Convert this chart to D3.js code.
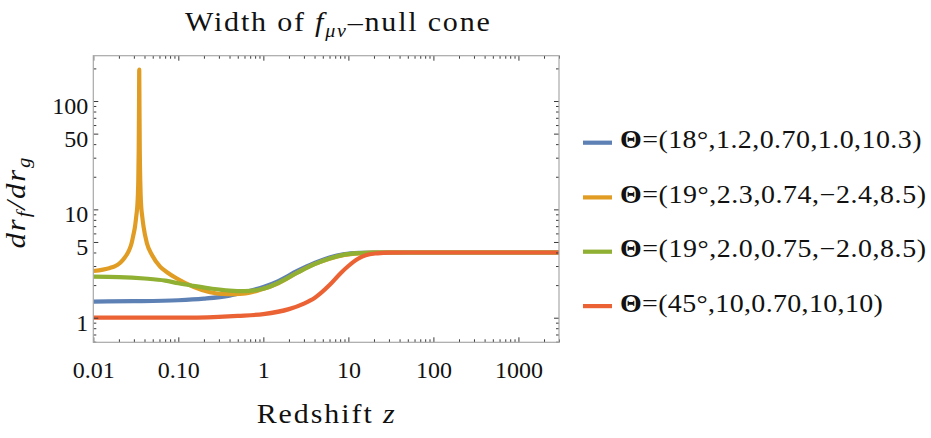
<!DOCTYPE html>
<html>
<head>
<meta charset="utf-8">
<script src="https://cdn.jsdelivr.net/npm/d3@7"></script>
<style>
  html, body { margin: 0; padding: 0; background: #fff; }
  svg { display: block; }
  text { font-family: "Liberation Serif", "Times New Roman", serif; fill: #111; }
</style>
</head>
<body>
<svg id="chart" width="931" height="438"></svg>
<script>
// Redshift samples and dr_f/dr_g values for each parameter set
const zBlue   = [0.01, 0.03, 0.1, 0.2, 0.4, 0.6, 1, 1.5, 2.5, 4, 6, 9, 14, 20, 50, 3000];
const rBlue   = [1.41, 1.42, 1.45, 1.5, 1.6, 1.72, 1.92, 2.18, 2.7, 3.2, 3.6, 3.86, 3.97, 4.0, 4.0, 4.0];

const zOrange = [0.01, 0.013, 0.0157, 0.0181, 0.0198, 0.0222, 0.0246, 0.0264, 0.0282, 0.0296, 0.0309, 0.0321, 0.0329,
                 0.0335, 0.0338, 0.0342, 0.0345, 0.0347, 0.0349, 0.0352, 0.0357, 0.036, 0.0366, 0.0375, 0.039, 0.0427,
                 0.049, 0.061, 0.075, 0.095, 0.15, 0.235, 0.37, 0.58, 0.9, 1.5, 2.5, 4, 6, 9, 14, 20, 50, 3000];
const rOrange = [2.7, 2.78, 2.88, 3.0, 3.12, 3.4, 3.79, 4.2, 4.86, 5.8, 6.9, 8.8, 10.6,
                 14, 18, 35, 90, 195, 90, 35, 18, 14, 10.6, 8.8, 6.9, 4.86,
                 3.79, 2.96, 2.6, 2.31, 1.93, 1.72, 1.65, 1.67, 1.8, 2.08, 2.6, 3.12, 3.5, 3.8, 3.94, 3.99, 4.0, 4.0];

const zGreen  = [0.01, 0.02, 0.04, 0.07, 0.1, 0.15, 0.25, 0.4, 0.6, 1, 1.5, 2.5, 4, 6, 9, 14, 20, 50, 3000];
const rGreen  = [2.39, 2.37, 2.3, 2.2, 2.08, 1.97, 1.85, 1.78, 1.76, 1.85, 2.1, 2.6, 3.12, 3.52, 3.82, 3.95, 3.99, 4.0, 4.0];

const zRed    = [0.01, 0.1, 0.3, 0.5, 1, 2, 3, 4, 6, 8, 10, 13, 16, 22, 30, 50, 3000];
const rRed    = [1.0, 1.0, 1.02, 1.04, 1.08, 1.2, 1.35, 1.52, 2.0, 2.55, 3.0, 3.5, 3.78, 3.93, 3.99, 4.0, 4.0];

const seriesLabels = [
  "=(18°,1.2,0.70,1.0,10.3)",
  "=(19°,2.3,0.74,−2.4,8.5)",
  "=(19°,2.0,0.75,−2.0,8.5)",
  "=(45°,10,0.70,10,10)"
];
const seriesColors = ["#5E81B5", "#E19C24", "#8FB032", "#EB6235"];

const xTickValues = [0.01, 0.1, 1, 10, 100, 1000];
const xTickLabels = ["0.01", "0.10", "1", "10", "100", "1000"];
const yTickValues = [1, 5, 10, 50, 100];
const yTickLabels = ["1", "5", "10", "50", "100"];

const series = [
  { z: zBlue,   r: rBlue },
  { z: zOrange, r: rOrange },
  { z: zGreen,  r: rGreen },
  { z: zRed,    r: rRed }
].map((s, i) => ({ label: seriesLabels[i], color: seriesColors[i],
                   pts: s.z.map((z, j) => ({ z, r: s.r[j] })) }));

const svg = d3.select("#chart");
const L = 93.3, R = 559, T = 55.7, B = 342.3;

const x = d3.scaleLog().domain([0.01, 3000]).range([L, R]);
const y = d3.scaleLog().domain([0.593, 262]).range([B, T]);

// Widen a text element to a given width: some glyph stretch, the rest as letter spacing
function fitWidth(sel, target, ax, maxStretch = 1.12) {
  const w0 = sel.node().getBBox().width;
  const s = Math.min(maxStretch, target / w0);
  const n = sel.text().length;
  const ls = Math.max(0, (target / s - w0) / Math.max(1, n - 1));
  sel.style("letter-spacing", ls + "px");
  const w1 = sel.node().getBBox().width;
  const s2 = target / w1;
  sel.attr("transform", `translate(${ax},0) scale(${s2},1) translate(${-ax},0)`);
}

// Clip for the curves
svg.append("defs").append("clipPath").attr("id", "plotClip")
  .append("rect").attr("x", L).attr("y", T).attr("width", R - L).attr("height", B - T);

// Curves
const line = d3.line()
  .x(d => x(d.z))
  .y(d => y(d.r))
  .curve(d3.curveMonotoneX);

svg.append("g").attr("clip-path", "url(#plotClip)")
  .selectAll("path").data(series).join("path")
  .attr("d", d => line(d.pts))
  .attr("fill", "none")
  .attr("stroke", d => d.color)
  .attr("stroke-width", 4.2)
  .attr("stroke-linejoin", "round");

// Tick positions: decades plus 2..9 subdivisions
function logMinor(lo, hi, skip) {
  const out = [];
  for (let k = Math.floor(Math.log10(lo)) - 1; k <= Math.ceil(Math.log10(hi)); k++) {
    for (let m = 1; m <= 9; m++) {
      const v = m * Math.pow(10, k);
      if (v >= lo * 0.9999 && v <= hi * 1.0001 && !skip.some(s => Math.abs(s - v) / v < 1e-6)) out.push(v);
    }
  }
  return out;
}
const xMinor = logMinor(0.01, 3000, xTickValues);
const yMinor = logMinor(0.593, 262, yTickValues);

const tickColor = "#3a3a3a";
const majorLen = 5, minorLen = 3;

function drawTicks(axisFn, scale, values, len, transform) {
  const g = svg.append("g").attr("transform", transform)
    .call(axisFn(scale).tickValues(values).tickSize(-len).tickFormat(""));
  g.select(".domain").remove();
  g.selectAll(".tick line").attr("stroke", tickColor).attr("stroke-width", 1);
  return g;
}

// Bottom/top ticks
drawTicks(d3.axisBottom, x, xTickValues, majorLen, `translate(0,${B})`);
drawTicks(d3.axisBottom, x, xMinor, minorLen, `translate(0,${B})`);
drawTicks(d3.axisTop, x, xTickValues, majorLen, `translate(0,${T})`);
drawTicks(d3.axisTop, x, xMinor, minorLen, `translate(0,${T})`);
// Left/right ticks
drawTicks(d3.axisLeft, y, yTickValues, majorLen, `translate(${L},0)`);
drawTicks(d3.axisLeft, y, yMinor, minorLen, `translate(${L},0)`);
drawTicks(d3.axisRight, y, yTickValues, majorLen, `translate(${R},0)`);
drawTicks(d3.axisRight, y, yMinor, minorLen, `translate(${R},0)`);

// Frame
svg.append("rect")
  .attr("x", L).attr("y", T).attr("width", R - L).attr("height", B - T)
  .attr("fill", "none").attr("stroke", "#a8a8a8").attr("stroke-width", 1.2);

// X tick labels
const xLab = svg.append("g").attr("transform", `translate(0,${B})`)
  .call(d3.axisBottom(x).tickValues(xTickValues).tickSize(0)
        .tickFormat((d, i) => xTickLabels[i]));
xLab.select(".domain").remove();
xLab.selectAll(".tick text")
  .attr("y", 36).attr("dy", null)
  .style("font-family", "Liberation Serif").style("font-size", "24px").attr("fill", "#111");

// Y tick labels
const yLab = svg.append("g").attr("transform", `translate(${L},0)`)
  .call(d3.axisLeft(y).tickValues(yTickValues).tickSize(0)
        .tickFormat((d, i) => yTickLabels[i]));
yLab.select(".domain").remove();
yLab.selectAll(".tick text")
  .attr("x", -5).attr("dy", 12.5)
  .style("font-family", "Liberation Serif").style("font-size", "24px").attr("fill", "#111");

// Title
const title = svg.append("text")
  .attr("x", 338.3).attr("y", 30.7).attr("text-anchor", "middle")
  .style("font-size", "27px");
title.append("tspan").text("Width of ");
title.append("tspan").attr("font-style", "italic").text("f");
title.append("tspan").attr("font-style", "italic").style("font-size", "18px").attr("dy", 6).text("μν");
title.append("tspan").attr("dy", -6).text("–null cone");
fitWidth(title, 306.7, 338.3);

// X axis title
const xTitle = svg.append("text")
  .attr("x", 326.7).attr("y", 423).attr("text-anchor", "middle")
  .style("font-size", "27px");
xTitle.append("tspan").text("Redshift ");
xTitle.append("tspan").attr("font-style", "italic").text("z");
fitWidth(xTitle, 140, 326.7);

// Y axis title
const yTitleG = svg.append("g").attr("transform", "translate(25,202) rotate(-90)");
const yTitle = yTitleG.append("text").attr("x", 0).attr("y", 0).attr("text-anchor", "middle")
  .style("font-size", "28px").attr("font-style", "italic");
yTitle.append("tspan").text("dr");
yTitle.append("tspan").style("font-size", "19px").attr("dy", 5).text("f");
yTitle.append("tspan").attr("dy", -5).text("/dr");
yTitle.append("tspan").style("font-size", "19px").attr("dy", 5).text("g");
fitWidth(yTitle, 93, 0);

// Legend
const legendBase = [148.3, 203.0, 257.3, 311.7];
const legendWidths = [302, 306.7, 306.7, 263.3];
const lg = svg.append("g");
series.forEach((s, i) => {
  const by = legendBase[i];
  lg.append("line")
    .attr("x1", 583).attr("x2", 612).attr("y1", by - 5.6).attr("y2", by - 5.6)
    .attr("stroke", s.color).attr("stroke-width", 4.2);
  const t = lg.append("text").attr("x", 620).attr("y", by).style("font-size", "25px");
  t.append("tspan").attr("font-weight", "bold").text("Θ");
  t.append("tspan").text(s.label);
  fitWidth(t, legendWidths[i], 620);
});
</script>
</body>
</html>
